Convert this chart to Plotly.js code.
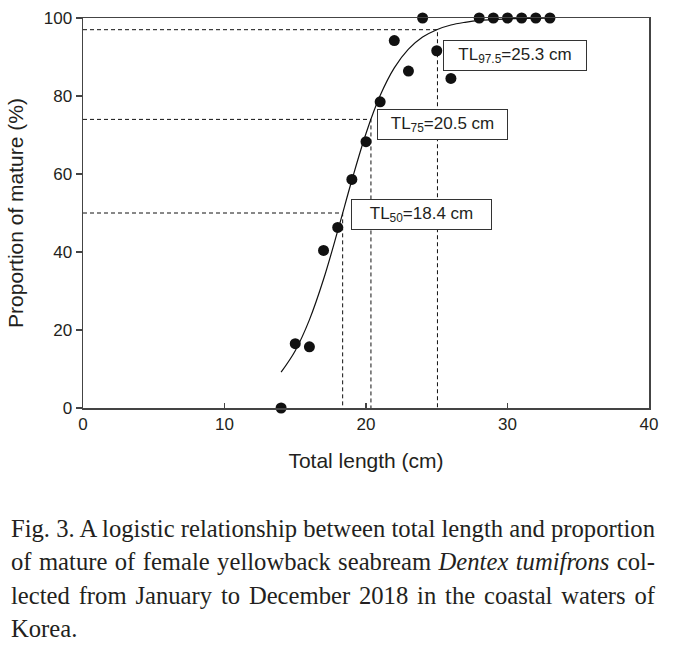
<!DOCTYPE html>
<html>
<head>
<meta charset="utf-8">
<script src="https://cdn.plot.ly/plotly-3.0.1.min.js"></script>
<style>
  html, body { margin: 0; padding: 0; background: #fff; }
  #wrap { position: relative; width: 677px; height: 647px; overflow: hidden; }
  #chart { position: absolute; left: 0; top: 0; width: 677px; height: 647px; }
  #caption { position: absolute; left: 11px; top: 512px;
             font-family: "Liberation Serif", "Times New Roman", serif;
             font-size: 26px; line-height: 33.3px; color: #231f20; transform-origin: 0 0; }
  #caption div { white-space: nowrap; }
</style>
</head>
<body>
<div id="wrap">
  <div id="chart"></div>
  <div id="caption"></div>
</div>
<script>
// Observed proportions of mature females by total length class
const lengthCm = [14, 15, 16, 17, 18, 19, 20, 21, 22, 23, 24, 25, 26, 28, 29, 30, 31, 32, 33];
const propMature = [0, 16.5, 15.7, 40.4, 46.3, 58.6, 68.3, 78.5, 94.2, 86.4, 100, 91.6, 84.5, 100, 100, 100, 100, 100, 100];

// Fitted logistic curve
const curveX = [14, 15, 16, 17, 18, 19, 20, 21, 22, 23, 24, 25, 26, 27, 28, 29, 30, 31, 32, 33];
const curveY = [9.2, 14.7, 22.6, 33.0, 45.4, 58.4, 70.4, 80.1, 87.2, 92.0, 95.1, 97.0, 98.2, 98.9, 99.4, 99.6, 99.8, 99.9, 99.9, 100];

// Guide lines (TL50, TL75, TL97.5)
const guideX = [18.35, 20.35, 25.05];
const guideY = [50, 74, 97];
const guideLabels = ["TL<sub>50</sub>=18.4 cm", "TL<sub>75</sub>=20.5 cm", "TL<sub>97.5</sub>=25.3 cm"];
const labelX = [18.92, 20.8, 25.42];
const labelY = [49.7, 72.8, 90.3];
const labelW = [137, 127, 140];

const xTicks = [0, 10, 20, 30, 40];
const yTicks = [0, 20, 40, 60, 80, 100];

const captionLines = [
  "Fig. 3. A logistic relationship between total length and proportion",
  "of mature of female yellowback seabream <i>Dentex tumifrons</i> col-",
  "lected from January to December 2018 in the coastal waters of",
  "Korea."
];

const FONT = '"Liberation Sans", Arial, sans-serif';
const INK = '#231f20';

const traces = [];
for (let i = 0; i < guideX.length; i++) {
  traces.push({
    x: [0, guideX[i], guideX[i]],
    y: [guideY[i], guideY[i], 0],
    mode: 'lines', type: 'scatter', hoverinfo: 'skip', showlegend: false,
    line: { color: '#111', width: 1, dash: '4px,3px' }
  });
}
traces.push({
  x: curveX, y: curveY, mode: 'lines', type: 'scatter', showlegend: false,
  line: { color: '#111', width: 1.2, shape: 'spline', smoothing: 1 }
});
traces.push({
  x: lengthCm, y: propMature, mode: 'markers', type: 'scatter', showlegend: false,
  cliponaxis: false,
  marker: { color: '#111', size: 11 }
});

const annotations = guideLabels.map((t, i) => ({
  x: labelX[i], y: labelY[i], xref: 'x', yref: 'y',
  xanchor: 'left', yanchor: 'middle', showarrow: false,
  text: t, width: labelW[i], height: 27, align: 'center', valign: 'middle',
  bgcolor: '#fff', bordercolor: '#333', borderwidth: 1, borderpad: 1,
  font: { family: FONT, size: 17, color: INK }
}));

const axisCommon = {
  showgrid: false, zeroline: false, showline: true, mirror: true,
  linecolor: '#444', linewidth: 1.5, tickcolor: '#444', tickwidth: 1.2,
  tickfont: { family: FONT, size: 17, color: INK }, fixedrange: true
};

const layout = {
  width: 677, height: 647,
  margin: { l: 83, r: 28, t: 18, b: 239 },
  paper_bgcolor: '#fff', plot_bgcolor: '#fff',
  font: { family: FONT, color: INK },
  xaxis: Object.assign({}, axisCommon, {
    range: [0, 40], tickmode: 'array', tickvals: xTicks, ticktext: xTicks.map(String),
    ticks: 'inside', ticklen: 5,
    title: { text: 'Total length (cm)', font: { family: FONT, size: 21, color: INK }, standoff: 20 }
  }),
  yaxis: Object.assign({}, axisCommon, {
    range: [0, 100], tickmode: 'array', tickvals: yTicks, ticktext: yTicks.map(String),
    ticks: 'outside', ticklen: 6,
    title: { text: 'Proportion of mature (%)', font: { family: FONT, size: 21, color: INK }, standoff: 14 }
  }),
  annotations: annotations,
  showlegend: false
};

Plotly.newPlot('chart', traces, layout, { displayModeBar: false, staticPlot: true });

// Caption: justified lines, like the printed figure legend (slightly condensed type)
const cap = document.getElementById('caption');
const TARGET = 644;
const divs = captionLines.map(line => {
  const d = document.createElement('div');
  d.innerHTML = line;
  cap.appendChild(d);
  return d;
});
function natWidth(el) {
  const r = document.createRange(); r.selectNodeContents(el);
  return r.getBoundingClientRect().width;
}
const naturals = divs.map(natWidth);
const maxNat = Math.max.apply(null, naturals.slice(0, 3));
const s = Math.min(1, TARGET / maxNat);
const inner = TARGET / s;
cap.style.transform = 'scaleX(' + s + ')';
divs.forEach((d, i) => {
  if (i < divs.length - 1) {
    const spaces = (d.textContent.match(/ /g) || []).length;
    if (spaces > 0) d.style.wordSpacing = ((inner - naturals[i]) / spaces) + 'px';
  }
});
</script>
</body>
</html>
